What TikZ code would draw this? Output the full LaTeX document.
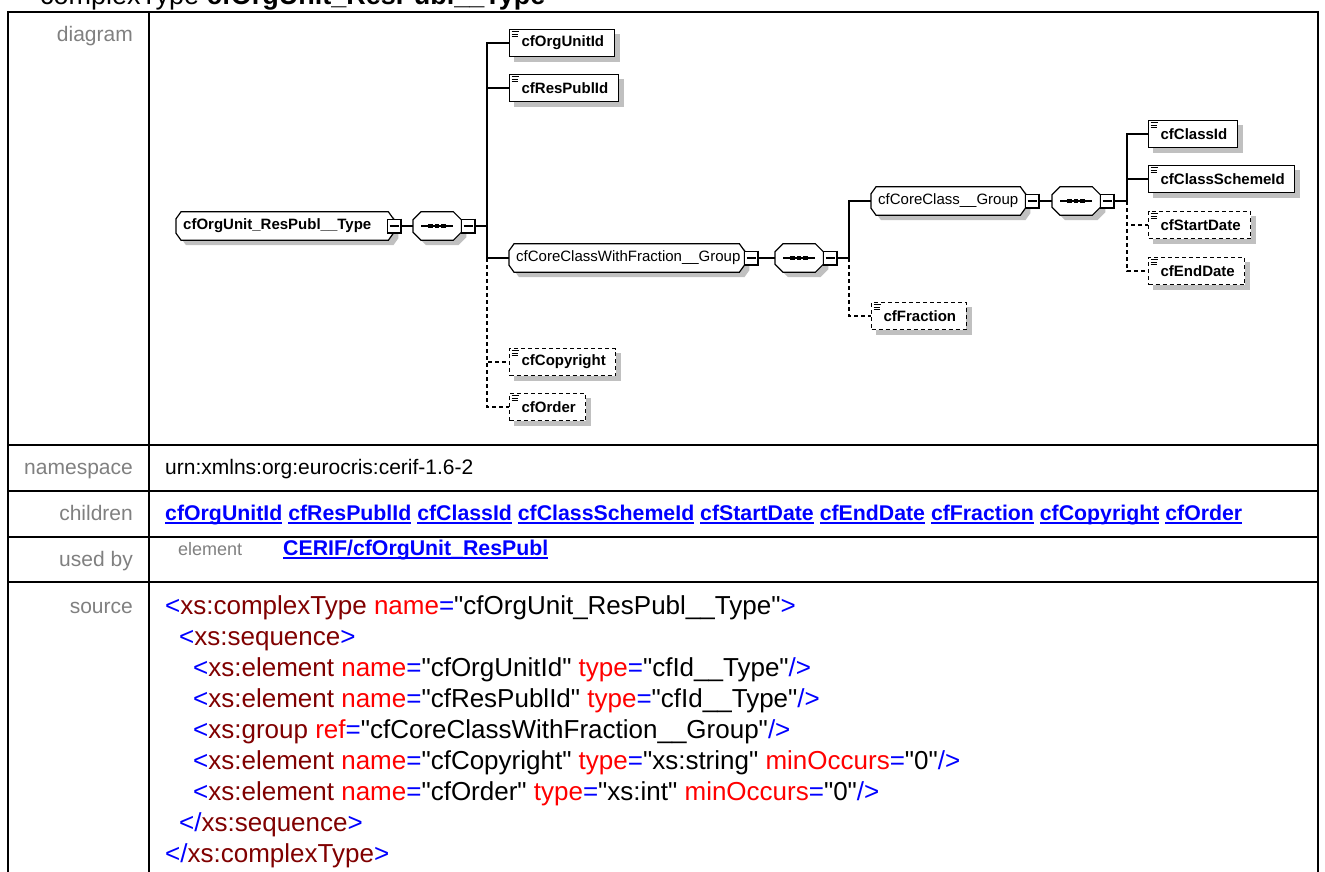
\documentclass[tikz,border=0pt]{standalone}
\usepackage{fontspec}
\setmainfont{Liberation Sans}[Ligatures=TeXOff]
\usetikzlibrary{calc}
\pgfdeclarelayer{bg}
\pgfdeclarelayer{paper}
\pgfsetlayers{paper,bg,main}
\definecolor{lblgray}{HTML}{808080}
\definecolor{shadowgray}{HTML}{C0C0C0}
\definecolor{tagred}{HTML}{800000}
\definecolor{attrred}{HTML}{FF0000}
\definecolor{markblue}{HTML}{0000FF}
\newcommand\fs[1]{\fontsize{#1}{#1}\selectfont}
\newcommand\lnk[1]{\setbox0\hbox{#1}\rlap{\color{markblue}\rule[-4pt]{\wd0}{1.8pt}}\box0\relax}
\newcommand\octpath[3]{($(#1.north west)+(#2,0)$) -- ($(#1.north east)+(-#2,0)$) -- ($(#1.north east)+(0,#3)$) -- ($(#1.south east)+(0,-#3)$) -- ($(#1.south east)+(-#2,0)$) -- ($(#1.south west)+(#2,0)$) -- ($(#1.south west)+(0,-#3)$) -- ($(#1.north west)+(0,#3)$) -- cycle}
\newcommand\octbox[3]{\begin{pgfonlayer}{bg}\fill[shadowgray,transform canvas={shift={(5pt,-5pt)}}] \octpath{#1}{#2}{#3};\draw[line width=1.2pt,fill=white] \octpath{#1}{#2}{#3};\end{pgfonlayer}}
\newcommand\shadowrect[1]{\begin{pgfonlayer}{bg}\fill[shadowgray] ($(#1.north west)+(5,5)$) rectangle ($(#1.south east)+(5,5)$);\end{pgfonlayer}}
\newcommand\elicon[1]{\draw[line width=0.9pt] ($(#1.north west)+(2.5,3)$) -- +(7,0) ($(#1.north west)+(2.5,5.2)$) -- +(6,0) ($(#1.north west)+(2.5,7.4)$) -- +(6,0);}
\newcommand\minusdeco[1]{\draw[line width=1.1pt] ($(#1.west)+(2.5,0)$) -- ($(#1.east)+(-3,0)$);\draw[line width=2.2pt] ($(#1.north east)+(-0.5,0)$) -- ($(#1.south east)+(-0.5,-0.5)$) -- ($(#1.south west)+(0,-0.5)$);}
\newcommand\compdeco[1]{\draw[line width=1.2pt] ($(#1.west)+(8,0)$) -- ($(#1.east)+(-8,0)$);
  \fill ($(#1.center)+(-8.75,-2.25)$) rectangle +(4.5,4.5);
  \fill ($(#1.center)+(-2.25,-2.25)$) rectangle +(4.5,4.5);
  \fill ($(#1.center)+(4.25,-2.25)$) rectangle +(4.5,4.5);}
\newcommand\tg[1]{\textcolor{markblue}{<}\textcolor{tagred}{#1}}
\newcommand\etg[1]{\textcolor{markblue}{</}\textcolor{tagred}{#1}\textcolor{markblue}{>}}
\newcommand\at[2]{ \textcolor{attrred}{#1}\textcolor{markblue}{=}"#2"}
\newcommand\cl{\textcolor{markblue}{>}}
\newcommand\ecl{\textcolor{markblue}{/>}}
\tikzset{
  tbl/.style={line width=2pt},
  lbl/.style={anchor=base east, inner sep=0, text=lblgray, font=\fs{21}},
  val/.style={anchor=base west, inner sep=0, font=\fs{21}},
  src/.style={anchor=base west, inner sep=0, font=\fs{26}},
  elem/.style={draw, line width=1.2pt, fill=white, inner sep=0, minimum height=27pt, anchor=west,
    font=\fs{15}\bfseries, execute at begin node={\hspace*{12pt}}, execute at end node={\hspace*{10pt}}},
  optelem/.style={elem, dash pattern=on 4pt off 3pt},
  grp/.style={inner sep=0, inner xsep=7pt, minimum height=28pt, anchor=west, font=\fs{15}},
  comp/.style={inner sep=0, minimum width=48pt, minimum height=28pt, anchor=west},
  minusbox/.style={draw, fill=white, line width=1.1pt, inner sep=0, minimum size=13.5pt, anchor=west},
  conn/.style={line width=1.2pt},
  optconn/.style={line width=1.2pt, dash pattern=on 4pt off 3pt},
}
\begin{document}
\begin{tikzpicture}[x=1pt,y=-1pt]
\useasboundingbox (0,0) rectangle (1325,872);
\begin{pgfonlayer}{paper}\fill[white] (0,0) rectangle (1325,872);\end{pgfonlayer}
% title (cut off at top)
\node[anchor=base west, inner sep=0, font=\fs{27}] (title) at (40,5) {complexType \textbf{cfOrgUnit\_ResPubl\_\_Type}};
% table
\draw[tbl] (8,12) -- (1318,12);
\draw[tbl] (8,11) -- (8,880);
\draw[tbl] (149,12) -- (149,880);
\draw[tbl] (1318,11) -- (1318,880);
\foreach \yy in {445,491,537,582} \draw[tbl] (8,\yy) -- (1318,\yy);
% labels
\node[lbl] (ldiag) at (133,42) {diagram};
\node[lbl] (lns) at (133,474) {namespace};
\node[lbl] (lch) at (133,520) {children};
\node[lbl] (lub) at (133,566) {used by};
\node[lbl] (lsrc) at (133,613) {source};
\node[val] (vns) at (165,474) {urn:xmlns:org:eurocris:cerif-1.6-2};
\node[val, font=\fs{21.3}\bfseries, text=markblue] (vch) at (165,520) {\lnk{cfOrgUnitId} \lnk{cfResPublId} \lnk{cfClassId} \lnk{cfClassSchemeId} \lnk{cfStartDate} \lnk{cfEndDate} \lnk{cfFraction} \lnk{cfCopyright} \lnk{cfOrder}};
\node[val, font=\fs{18}, text=lblgray] (vel) at (178,555) {element};
\node[val, font=\fs{21.3}\bfseries, text=markblue] (vub) at (283,555) {\lnk{CERIF/cfOrgUnit\_ResPubl}};
% source
\node[src] (s1) at (165,614) {\tg{xs:complexType}\at{name}{cfOrgUnit\_ResPubl\_\_Type}\cl};
\node[src] (s2) at (179,645) {\tg{xs:sequence}\cl};
\node[src] (s3) at (193,676) {\tg{xs:element}\at{name}{cfOrgUnitId}\at{type}{cfId\_\_Type}\ecl};
\node[src] (s4) at (193,707) {\tg{xs:element}\at{name}{cfResPublId}\at{type}{cfId\_\_Type}\ecl};
\node[src] (s5) at (193,738) {\tg{xs:group}\at{ref}{cfCoreClassWithFraction\_\_Group}\ecl};
\node[src] (s6) at (193,769) {\tg{xs:element}\at{name}{cfCopyright}\at{type}{xs:string}\at{minOccurs}{0}\ecl};
\node[src] (s7) at (193,800) {\tg{xs:element}\at{name}{cfOrder}\at{type}{xs:int}\at{minOccurs}{0}\ecl};
\node[src] (s8) at (179,831) {\etg{xs:sequence}};
\node[src] (s9) at (165,862) {\etg{xs:complexType}};
% ---------- diagram ----------
\node[grp, font=\fs{15}\bfseries] (root) at (176,226) {\makebox[203pt][l]{cfOrgUnit\_ResPubl\_\_Type}};
\octbox{root}{5}{7}
\node[minusbox] (rootm) at (387,226) {}; \minusdeco{rootm}
\node[comp] (seq1) at (413,226) {}; \octbox{seq1}{8}{8} \compdeco{seq1}
\node[minusbox] (seq1m) at (461,226) {}; \minusdeco{seq1m}
\coordinate (j1) at (487,226);
\coordinate (j1b) at (487,258);
\node[elem] (orgid) at (509,43) {cfOrgUnitId}; \shadowrect{orgid} \elicon{orgid}
\node[elem] (respub) at (509,88) {cfResPublId}; \shadowrect{respub} \elicon{respub}
\node[grp] (cwf) at (509,258) {\makebox[221pt][l]{cfCoreClassWithFraction\_\_Group}};
\octbox{cwf}{5}{7}
\node[minusbox] (cwfm) at (744,258) {}; \minusdeco{cwfm}
\node[comp] (seq2) at (775,258) {}; \octbox{seq2}{8}{8} \compdeco{seq2}
\node[minusbox] (seq2m) at (823,258) {}; \minusdeco{seq2m}
\coordinate (j2) at (849,258);
\node[grp] (ccg) at (871,201) {\makebox[140pt][l]{cfCoreClass\_\_Group}};
\octbox{ccg}{5}{7}
\node[minusbox] (ccgm) at (1025,201) {}; \minusdeco{ccgm}
\node[comp] (seq3) at (1052,201) {}; \octbox{seq3}{8}{8} \compdeco{seq3}
\node[minusbox] (seq3m) at (1100,201) {}; \minusdeco{seq3m}
\coordinate (j3) at (1127,201);
\node[elem] (classid) at (1148,134) {cfClassId}; \shadowrect{classid} \elicon{classid}
\node[elem] (scheme) at (1148,179) {cfClassSchemeId}; \shadowrect{scheme} \elicon{scheme}
\node[optelem] (start) at (1148,225) {cfStartDate}; \shadowrect{start} \elicon{start}
\node[optelem] (endd) at (1148,271) {cfEndDate}; \shadowrect{endd} \elicon{endd}
\node[optelem] (frac) at (871,316) {cfFraction}; \shadowrect{frac} \elicon{frac}
\node[optelem] (copy) at (509,362) {cfCopyright}; \shadowrect{copy} \elicon{copy}
\node[optelem] (order) at (509,407) {cfOrder}; \shadowrect{order} \elicon{order}
% connectors
\draw[conn] (rootm.east) -- (seq1.west);
\draw[conn] (seq1m.east) -- (j1);
\draw[conn] (j1) |- (orgid.west);
\draw[conn] (j1) |- (respub.west);
\draw[conn] (j1) |- (cwf.west);
\draw[optconn] (j1b) |- (copy.west);
\draw[optconn] (j1b) |- (order.west);
\draw[conn] (cwfm.east) -- (seq2.west);
\draw[conn] (seq2m.east) -- (j2);
\draw[conn] (j2) |- (ccg.west);
\draw[optconn] (j2) |- (frac.west);
\draw[conn] (ccgm.east) -- (seq3.west);
\draw[conn] (seq3m.east) -- (j3);
\draw[conn] (j3) |- (classid.west);
\draw[conn] (j3) |- (scheme.west);
\draw[optconn] (j3) |- (start.west);
\draw[optconn] (j3) |- (endd.west);
\end{tikzpicture}
\end{document}
